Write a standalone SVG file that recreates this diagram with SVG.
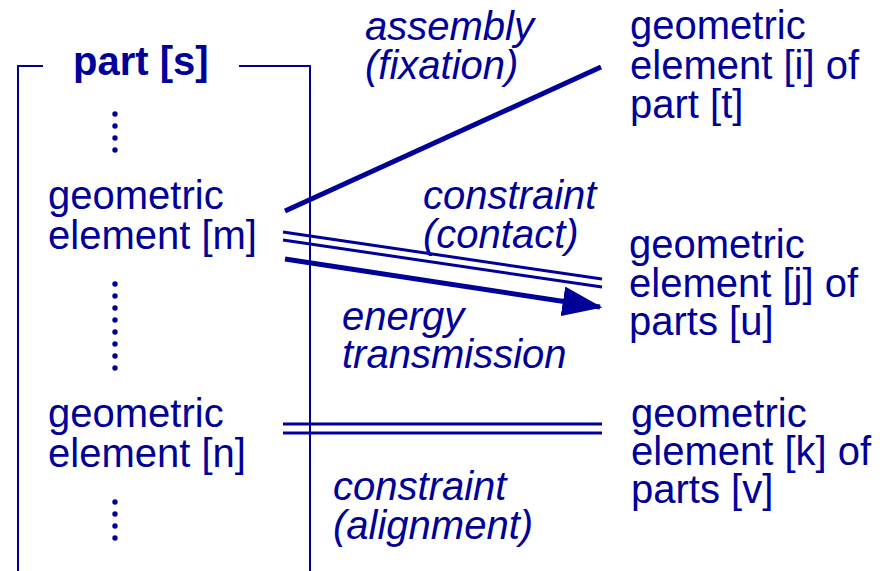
<svg xmlns="http://www.w3.org/2000/svg" width="885" height="571" viewBox="0 0 885 571">
<style>
text{font-family:"Liberation Sans",Arial,sans-serif;font-size:40px;fill:#000099}
.b{font-weight:bold}
.i{font-style:italic}
.frame{fill:none;stroke:#000099;stroke-width:2}
.thick{stroke:#000099;stroke-width:5;fill:none}
.dbl{stroke:#000099;stroke-width:3;fill:none}
.dot{fill:#000099}
</style>
<defs>
<marker id="ah" markerWidth="8" markerHeight="6" refX="7.5" refY="3" orient="auto" markerUnits="strokeWidth">
<path d="M0,0 L8,3 L0,6 z" fill="#000099"/>
</marker>
</defs>
<g id="part-s">
<path class="frame" d="M18,571 V66 H43 M239,66 H310 V571"/>
<text class="b" x="73" y="75">part [s]</text>
<g id="dots-top"><circle class="dot" cx="115" cy="114" r="2.7"/><circle class="dot" cx="115" cy="126" r="2.7"/><circle class="dot" cx="115" cy="138" r="2.7"/><circle class="dot" cx="115" cy="150" r="2.7"/></g>
<g id="dots-mid"><circle class="dot" cx="115" cy="284" r="2.7"/><circle class="dot" cx="115" cy="296" r="2.7"/><circle class="dot" cx="115" cy="308" r="2.7"/><circle class="dot" cx="115" cy="320" r="2.7"/><circle class="dot" cx="115" cy="332" r="2.7"/><circle class="dot" cx="115" cy="344" r="2.7"/><circle class="dot" cx="115" cy="356" r="2.7"/><circle class="dot" cx="115" cy="368" r="2.7"/></g>
<g id="dots-bot"><circle class="dot" cx="115" cy="502" r="2.7"/><circle class="dot" cx="115" cy="514" r="2.7"/><circle class="dot" cx="115" cy="526" r="2.7"/><circle class="dot" cx="115" cy="538" r="2.7"/></g>
</g>
<g id="elem-m"><text x="48" y="209">geometric</text><text x="48" y="249">element [m]</text></g>
<g id="elem-n"><text x="48" y="427">geometric</text><text x="48" y="467">element [n]</text></g>
<g id="elem-i"><text x="630" y="39">geometric</text><text x="630" y="79">element [i] of</text><text x="630" y="118">part [t]</text></g>
<g id="elem-j"><text x="629" y="258">geometric</text><text x="629" y="297">element [j] of</text><text x="629" y="335">parts [u]</text></g>
<g id="elem-k"><text x="631" y="427">geometric</text><text x="631" y="465">element [k] of</text><text x="631" y="503">parts [v]</text></g>
<g id="connectors">
<line class="thick" x1="285" y1="211" x2="601" y2="67"/>
<line class="dbl" x1="283" y1="232" x2="602" y2="279"/>
<line class="dbl" x1="283" y1="240" x2="602" y2="287"/>
<line class="thick" x1="285" y1="259" x2="600" y2="307" marker-end="url(#ah)"/>
<line class="dbl" x1="283" y1="424" x2="602" y2="424"/>
<line class="dbl" x1="283" y1="433" x2="602" y2="433"/>
<text class="i" x="365" y="40">assembly</text><text class="i" x="365" y="79">(fixation)</text>
<text class="i" x="423" y="209">constraint</text><text class="i" x="423" y="248">(contact)</text>
<text class="i" x="342" y="330">energy</text><text class="i" x="342" y="368">transmission</text>
<text class="i" x="333" y="500">constraint</text><text class="i" x="333" y="539">(alignment)</text>
</g>
</svg>
